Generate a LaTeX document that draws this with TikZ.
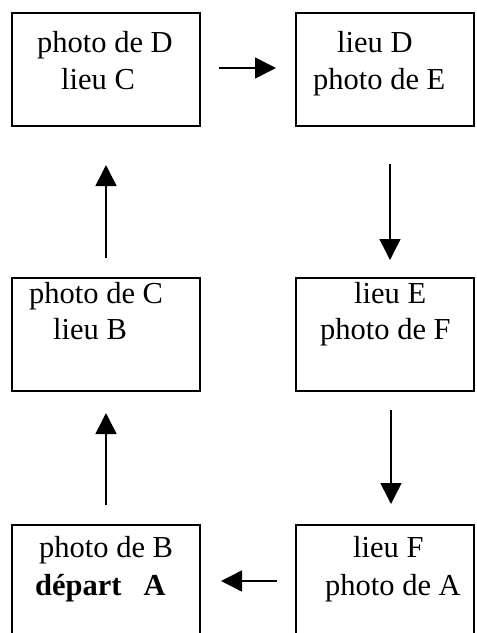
\documentclass[tikz,border=0pt]{standalone}
\usepackage{fontspec}
\setmainfont{Liberation Serif}
\usetikzlibrary{arrows.meta}
\tikzset{
  box/.style={draw=black, line width=1.5pt, rectangle, inner sep=0pt, outer sep=0pt, minimum height=113pt},
  lbox/.style={box, minimum width=188pt},
  rbox/.style={box, minimum width=178pt},
  txt/.style={anchor=base west, inner sep=0pt, font=\fontsize{30.5}{36}\selectfont},
  arr/.style={line width=1.5pt, -{Triangle[length=21pt,width=21pt]}}
}
\begin{document}
\begin{tikzpicture}[x=1pt,y=1pt]
\useasboundingbox (0,0) rectangle (477,-633);
\clip (0,0) rectangle (477,-633);
% boxes
\node[lbox] (TL) at (106,-69.5) {};
\node[rbox] (TR) at (385,-69.5) {};
\node[lbox] (ML) at (106,-334.5) {};
\node[rbox] (MR) at (385,-334.5) {};
\node[lbox] (BL) at (106,-581.5) {};
\node[rbox] (BR) at (385,-581.5) {};
% texts
\node[txt] (t1) at (37,-52) {photo de D};
\node[txt] (t2) at (61,-89) {lieu C};
\node[txt] (t3) at (337,-52) {lieu D};
\node[txt] (t4) at (313,-89) {photo de E};
\node[txt] (t5) at (29,-303) {photo de C};
\node[txt] (t6) at (53,-339) {lieu B};
\node[txt] (t7) at (354,-303) {lieu E};
\node[txt] (t8) at (320,-339) {photo de F};
\node[txt] (t9) at (39,-557) {photo de B};
\node[txt] (t10) at (35,-595) {\bfseries départ\hspace{22pt}A};
\node[txt] (t11) at (353,-557) {lieu F};
\node[txt] (t12) at (325,-595) {photo de A};
% arrow endpoints
\coordinate (a1s) at (219,-68);
\coordinate (a1e) at (276,-68);
\coordinate (a2s) at (390,-164);
\coordinate (a2e) at (390,-260);
\coordinate (a3s) at (106,-258);
\coordinate (a3e) at (106,-165);
\coordinate (a4s) at (106,-505);
\coordinate (a4e) at (106,-413);
\coordinate (a5s) at (391,-410);
\coordinate (a5e) at (391,-504);
\coordinate (a6s) at (277,-581);
\coordinate (a6e) at (221,-581);
\draw[arr] (a1s) -- (a1e);
\draw[arr] (a2s) -- (a2e);
\draw[arr] (a3s) -- (a3e);
\draw[arr] (a4s) -- (a4e);
\draw[arr] (a5s) -- (a5e);
\draw[arr] (a6s) -- (a6e);
\end{tikzpicture}
\end{document}
